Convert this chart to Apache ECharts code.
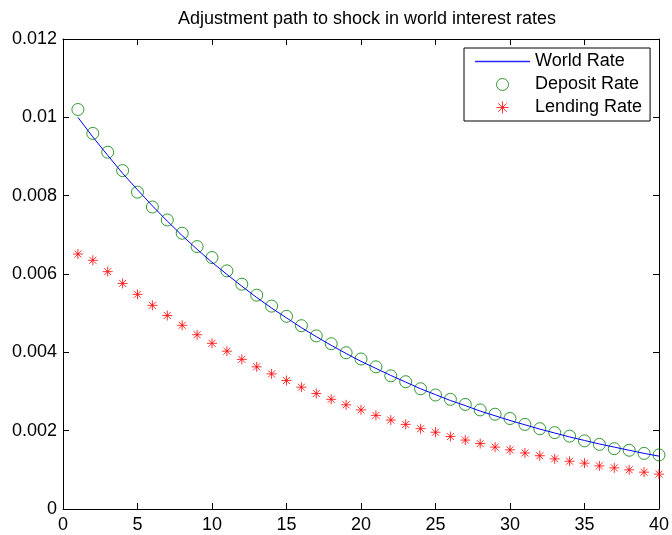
<!DOCTYPE html>
<html>
<head>
<meta charset="utf-8">
<script src="https://cdn.jsdelivr.net/npm/echarts@6/dist/echarts.min.js"></script>
<style>
html,body{margin:0;padding:0;background:#fff;}
#chart{width:672px;height:535px;}
</style>
</head>
<body>
<div id="chart"></div>
<script>
var periods = [1,2,3,4,5,6,7,8,9,10,11,12,13,14,15,16,17,18,19,20,21,22,23,24,25,26,27,28,29,30,31,32,33,34,35,36,37,38,39,40];
var worldRate = [0.01000,0.00950,0.00903,0.00857,0.00815,0.00774,0.00735,0.00698,0.00663,0.00630,0.00599,0.00569,0.00540,0.00513,0.00488,0.00463,0.00440,0.00418,0.00397,0.00377,0.00359,0.00341,0.00324,0.00307,0.00292,0.00277,0.00264,0.00250,0.00238,0.00226,0.00215,0.00204,0.00194,0.00184,0.00175,0.00166,0.00158,0.00150,0.00142,0.00135];
var depositRate = [0.01020,0.00959,0.00911,0.00864,0.00809,0.00771,0.00738,0.00704,0.00670,0.00642,0.00608,0.00574,0.00546,0.00518,0.00492,0.00468,0.00442,0.00422,0.00399,0.00383,0.00363,0.00340,0.00325,0.00307,0.00291,0.00280,0.00267,0.00253,0.00242,0.00231,0.00216,0.00205,0.00195,0.00186,0.00174,0.00165,0.00154,0.00150,0.00142,0.00138];
var lendingRate = [0.00651,0.00635,0.00606,0.00576,0.00548,0.00520,0.00494,0.00469,0.00445,0.00423,0.00403,0.00382,0.00363,0.00345,0.00328,0.00311,0.00295,0.00280,0.00266,0.00253,0.00239,0.00227,0.00216,0.00205,0.00196,0.00185,0.00176,0.00167,0.00158,0.00151,0.00143,0.00136,0.00128,0.00122,0.00117,0.00110,0.00105,0.00100,0.00094,0.00089];
var seriesNames = ['World Rate','Deposit Rate','Lending Rate'];
var titleText = 'Adjustment path to shock in world interest rates';

function pairs(xs, ys){ return xs.map(function(x,i){ return [x, ys[i]]; }); }

var FONT = 'Liberation Sans, Arial, Helvetica, sans-serif';
var FS = 18;
var asterisk = 'path://M0,-10L0,10M-10,0L10,0M-7,-7L7,7M-7,7L7,-7';
var lineIcon = 'path://M0,0H55V1.4H0Z';

var axisCommon = {
  axisLine: {show: true, onZero: false, lineStyle: {color: '#000', width: 1}},
  axisTick: {show: true, inside: true, length: 6, lineStyle: {color: '#000'}},
  splitLine: {show: false}
};

var chart = echarts.init(document.getElementById('chart'), null, {renderer: 'canvas'});
chart.setOption({
  animation: false,
  backgroundColor: '#fff',
  textStyle: {fontFamily: FONT},
  title: {
    text: titleText,
    left: 362, top: 5, textAlign: 'center',
    textStyle: {fontFamily: FONT, fontSize: FS, fontWeight: 'normal', color: '#000'}
  },
  grid: {left: 63, right: 13, top: 39, bottom: 26, containLabel: false},
  xAxis: [
    Object.assign({type: 'value', position: 'bottom', min: 0, max: 40, interval: 5,
      axisLabel: {color: '#000', fontSize: FS, fontFamily: FONT, margin: 7}}, axisCommon),
    Object.assign({type: 'value', position: 'top', min: 0, max: 40, interval: 5,
      axisLabel: {show: false}}, axisCommon)
  ],
  yAxis: [
    Object.assign({type: 'value', position: 'left', min: 0, max: 0.012, interval: 0.002,
      axisLabel: {color: '#000', fontSize: FS, fontFamily: FONT, margin: 6}}, axisCommon),
    Object.assign({type: 'value', position: 'right', min: 0, max: 0.012, interval: 0.002,
      axisLabel: {show: false}}, axisCommon)
  ],
  legend: {
    orient: 'vertical',
    left: 464, top: 48,
    padding: [4, 8, 4, 11],
    itemGap: 4,
    itemWidth: 55, itemHeight: 12,
    backgroundColor: '#fff',
    borderColor: '#000', borderWidth: 1, borderRadius: 0,
    textStyle: {fontFamily: FONT, fontSize: FS, color: '#000', lineHeight: 19},
    data: [
      {name: seriesNames[0], icon: lineIcon,
        itemStyle: {color: '#2a2aff', borderWidth: 0, opacity: 1}},
      {name: seriesNames[1], icon: 'circle', itemStyle: {color: 'rgba(0,0,0,0)', borderColor: '#008000', borderWidth: 1}},
      {name: seriesNames[2], icon: asterisk, itemStyle: {color: 'rgba(0,0,0,0)', borderColor: '#ff0000', borderWidth: 1}}
    ]
  },
  series: [
    {
      name: seriesNames[0], type: 'line', data: pairs(periods, worldRate),
      showSymbol: false, symbol: 'none',
      lineStyle: {color: '#0000ff', width: 1},
      itemStyle: {color: '#0000ff', borderColor: '#0000ff'}
    },
    {
      name: seriesNames[1], type: 'scatter', data: pairs(periods, depositRate),
      symbol: 'circle', symbolSize: 12,
      itemStyle: {color: 'rgba(0,0,0,0)', borderColor: '#008000', borderWidth: 1}
    },
    {
      name: seriesNames[2], type: 'scatter', data: pairs(periods, lendingRate),
      symbol: asterisk, symbolSize: 10,
      itemStyle: {color: 'rgba(0,0,0,0)', borderColor: '#ff0000', borderWidth: 1}
    }
  ]
});
</script>
</body>
</html>
